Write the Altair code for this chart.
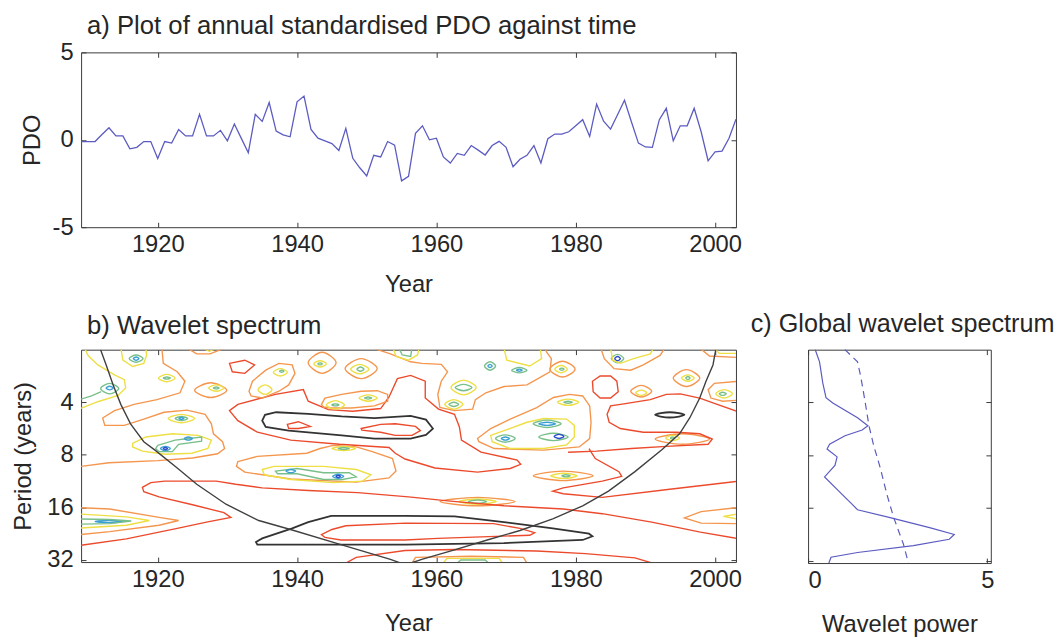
import altair as alt
import pandas as pd

FONT = "Liberation Sans"
TXT = "#262626"
FRAME = "#3a3a3a"
LINE_BLUE = "#5b5bc2"

# ---------------- panel a : annual standardised PDO ----------------
years = list(range(1909, 2004))
pdo = [-0.10, -0.10, -0.10, 0.30, 0.69, 0.22, 0.22, -0.52, -0.43, -0.10,
       -0.10, -1.07, -0.10, -0.19, 0.59, 0.22, 0.22, 1.46, 0.22, 0.22,
       0.54, -0.06, 0.90, 0.08, -0.74, 1.46, 1.05, 2.13, 0.50, 0.28,
       0.17, 2.17, 2.50, 0.59, 0.09, -0.06, -0.22, -0.61, 0.65, -1.06,
       -1.60, -2.07, -0.89, -0.98, -0.10, -0.31, -2.35, -2.09, 0.37, 0.80,
       0.00, 0.09, -0.98, -1.33, -0.78, -0.89, -0.33, -0.59, -0.87, -0.33,
       -0.09, -0.43, -1.54, -1.11, -0.89, -0.33, -1.33, 0.06, 0.33, 0.33,
       0.46, 0.80, 1.15, 0.19, 2.04, 1.06, 0.61, 1.43, 2.26, 1.02,
       -0.19, -0.41, -0.43, 1.15, 1.80, -0.06, 0.80, 0.80, 1.80, 0.46,
       -1.20, -0.69, -0.65, 0.09, 1.17]

# ---------------- panel c : global wavelet spectrum (octave = log2 period) ----
gws_power = [0.20, 0.32, 0.41, 0.50, 0.69, 1.38, 1.67, 1.51, 1.03, 0.60, 0.53, 0.81,
             0.75, 0.46, 0.83, 1.19, 1.38, 2.29, 3.39, 4.08, 3.94, 2.94, 1.38, 0.64, 0.58]
gws_octave = [1.00, 1.23, 1.63, 1.91, 2.01, 2.29, 2.44, 2.52, 2.63, 2.79, 2.88, 3.03,
              3.19, 3.41, 3.66, 3.90, 4.03, 4.18, 4.37, 4.50, 4.59, 4.71, 4.84, 4.93, 5.04]
sig_power = [1.03, 1.38, 1.47, 1.58, 1.70, 1.83, 2.02, 2.20, 2.39, 2.66, 2.80]
sig_octave = [1.00, 1.23, 1.51, 1.94, 2.44, 2.81, 3.25, 3.74, 4.18, 4.68, 5.04]

# ---------------- panel b : cone of influence ----------------
coi_left = [(1911.8, 1.00), (1912.6, 1.29), (1913.6, 1.67), (1914.7, 2.04), (1916.1, 2.41),
            (1918.0, 2.75), (1919.7, 2.92), (1922.8, 3.25), (1925.6, 3.56), (1929.8, 3.94),
            (1934.5, 4.25), (1939.3, 4.43), (1946.3, 4.71), (1953.4, 4.99), (1954.9, 5.06)]
coi_right = [(2000.1, 1.00), (1999.7, 1.29), (1998.7, 1.60), (1997.8, 1.92), (1996.4, 2.29),
             (1994.9, 2.60), (1992.4, 2.90), (1988.5, 3.32), (1984.7, 3.69), (1981.0, 3.97),
             (1976.7, 4.22), (1972.0, 4.44), (1967.3, 4.62), (1962.6, 4.81), (1957.9, 4.99),
             (1956.3, 5.06)]

# ---------------- panel b : traced contours (year, octave) ----------------
black_sig_a = [(1935.0, 2.35), (1935.4, 2.24), (1937.0, 2.19), (1941.6, 2.22), (1946.4, 2.27),
               (1951.1, 2.30), (1956.3, 2.26), (1958.5, 2.33), (1959.5, 2.50), (1958.5, 2.62),
               (1956.3, 2.69), (1951.1, 2.69), (1946.4, 2.63), (1938.8, 2.54), (1935.5, 2.47)]
black_sig_b = [(1934.1, 4.66), (1935.0, 4.59), (1939.3, 4.40), (1941.6, 4.28), (1944.9, 4.16),
               (1955.5, 4.16), (1962.6, 4.17), (1969.7, 4.28), (1976.7, 4.40), (1981.9, 4.50),
               (1982.4, 4.55), (1981.0, 4.62), (1969.7, 4.68), (1955.5, 4.71), (1940.0, 4.71),
               (1934.3, 4.71)]
red_core_a = [(1938.6, 2.42), (1940.2, 2.37), (1941.9, 2.46), (1940.2, 2.50), (1938.8, 2.50)]
red_core_b = [(1949.2, 2.50), (1952.0, 2.42), (1954.1, 2.41), (1957.0, 2.46), (1957.7, 2.54),
              (1956.5, 2.63), (1954.1, 2.63), (1952.0, 2.57), (1949.3, 2.53)]
red_core_c = [(1943.5, 4.52), (1945.0, 4.42), (1947.0, 4.35), (1955.5, 4.30), (1968.2, 4.31),
              (1972.0, 4.40), (1974.1, 4.48), (1973.4, 4.53), (1960.2, 4.59), (1955.5, 4.62),
              (1946.3, 4.62), (1944.0, 4.57)]
red_big = [(1930.3, 2.16), (1931.5, 2.04), (1936.9, 1.85), (1940.9, 1.76), (1941.6, 1.98),
           (1944.5, 2.14), (1948.0, 2.17), (1952.0, 2.12), (1953.2, 1.90), (1954.4, 1.55),
           (1956.3, 1.49), (1958.4, 1.60), (1958.4, 1.92), (1960.3, 2.13), (1962.6, 2.23),
           (1963.3, 2.47), (1963.6, 2.72), (1966.4, 2.95), (1971.6, 3.10), (1972.1, 3.18),
           (1970.6, 3.26), (1965.9, 3.33), (1959.8, 3.25), (1955.5, 3.08), (1954.1, 2.97),
           (1953.2, 2.86), (1946.1, 2.80), (1939.1, 2.72), (1934.3, 2.57), (1931.5, 2.35)]
red_ring_84 = [(1982.4, 1.60), (1983.5, 1.50), (1985.0, 1.50), (1985.9, 1.60), (1986.1, 1.80),
               (1985.0, 1.92), (1983.5, 1.92), (1982.5, 1.80)]
red_ring_32 = [(1930.3, 1.26), (1932.5, 1.20), (1933.9, 1.29), (1932.5, 1.45), (1930.7, 1.42)]
orange_blob_36 = [(1933.1, 1.79), (1933.6, 1.60), (1935.5, 1.39), (1937.4, 1.26), (1939.3, 1.29),
                  (1939.7, 1.45), (1938.8, 1.67), (1937.4, 1.79), (1935.0, 1.92), (1933.4, 1.88)]
orange_blob_48 = [(1943.5, 2.04), (1944.0, 1.92), (1946.4, 1.85), (1949.2, 1.79), (1951.5, 1.78),
                  (1953.0, 1.85), (1953.0, 1.98), (1951.1, 2.07), (1947.8, 2.11), (1944.9, 2.11),
                  (1943.8, 2.09)]
orange_ring_44 = [(1931.5, 3.13), (1934.3, 3.03), (1941.4, 2.97), (1943.3, 2.88), (1945.2, 2.82),
                  (1948.5, 2.85), (1950.8, 2.94), (1953.7, 3.07), (1954.2, 3.31), (1953.2, 3.44),
                  (1948.5, 3.52), (1939.1, 3.46), (1932.5, 3.33), (1931.3, 3.22)]
yellow_ring_44 = [(1935.0, 3.28), (1936.7, 3.22), (1943.8, 3.22), (1948.5, 3.28), (1950.6, 3.38),
                  (1949.4, 3.50), (1945.2, 3.53), (1939.1, 3.47), (1935.3, 3.38)]
green_ring_44 = [(1936.9, 3.31), (1940.0, 3.26), (1943.8, 3.34), (1947.5, 3.34), (1948.5, 3.42),
                 (1946.5, 3.47), (1943.8, 3.47), (1940.0, 3.36), (1937.2, 3.36)]
yellow_ring_22 = [(1916.4, 2.78), (1918.3, 2.66), (1922.1, 2.60), (1925.8, 2.63), (1927.7, 2.72),
                  (1927.2, 2.88), (1924.9, 2.97), (1921.1, 2.99), (1917.8, 2.93), (1916.4, 2.85)]
green_ring_22 = [(1920.0, 2.82), (1922.5, 2.72), (1926.3, 2.66), (1926.3, 2.74), (1923.0, 2.80),
                 (1922.1, 2.94), (1920.2, 2.94), (1919.7, 2.88)]
orange_ring_75 = [(1965.9, 2.69), (1967.8, 2.50), (1970.6, 2.32), (1974.4, 2.10), (1976.8, 1.91),
                  (1979.1, 1.85), (1981.0, 1.88), (1982.0, 2.07), (1982.2, 2.38), (1982.0, 2.69),
                  (1980.5, 2.85), (1975.4, 2.91), (1968.3, 2.88), (1966.1, 2.75)]
yellow_ring_75 = [(1967.8, 2.63), (1969.7, 2.54), (1973.0, 2.38), (1975.4, 2.31), (1978.7, 2.32),
                  (1979.8, 2.44), (1979.8, 2.66), (1978.7, 2.81), (1975.4, 2.88), (1970.6, 2.88),
                  (1968.0, 2.75)]

CLOSED = [("black_sig_a", "black", black_sig_a), ("black_sig_b", "black", black_sig_b),
          ("red_core_a", "red", red_core_a), ("red_core_b", "red", red_core_b),
          ("red_core_c", "red", red_core_c), ("red_big", "red", red_big),
          ("red_ring_84", "red", red_ring_84), ("red_ring_32", "red", red_ring_32),
          ("orange_blob_36", "orange", orange_blob_36), ("orange_blob_48", "orange", orange_blob_48),
          ("orange_ring_44", "orange", orange_ring_44), ("yellow_ring_44", "yellow", yellow_ring_44),
          ("green_ring_44", "green", green_ring_44), ("yellow_ring_22", "yellow", yellow_ring_22),
          ("green_ring_22", "green", green_ring_22), ("orange_ring_75", "orange", orange_ring_75),
          ("yellow_ring_75", "yellow", yellow_ring_75)]

# small rings: (year centre, octave centre, half width [yr], half height [oct], level)
rings = [
    (1913.1, 1.74, 1.3, 0.10, "green"), (1913.1, 1.73, 0.5, 0.035, "cyan"),
    (1916.9, 1.17, 1.0, 0.07, "green"), (1916.9, 1.17, 0.4, 0.03, "cyan"),
    (1921.3, 1.54, 1.2, 0.07, "yellow"), (1921.3, 1.54, 0.5, 0.02, "green"),
    (1927.6, 1.77, 2.3, 0.14, "orange"), (1928.4, 1.73, 1.1, 0.06, "yellow"),
    (1928.4, 1.73, 0.4, 0.02, "green"), (1923.4, 2.31, 1.9, 0.08, "yellow"),
    (1923.4, 2.31, 0.9, 0.04, "green"), (1923.4, 2.31, 0.35, 0.02, "cyan"),
    (1921.1, 2.88, 0.7, 0.04, "cyan"), (1921.1, 2.88, 0.3, 0.02, "blue"),
    (1924.4, 2.69, 0.6, 0.03, "cyan"),
    (1937.6, 1.43, 1.0, 0.07, "yellow"), (1937.8, 1.41, 0.3, 0.02, "green"),
    (1935.4, 1.76, 1.0, 0.09, "yellow"),
    (1943.6, 1.25, 2.0, 0.20, "orange"), (1943.3, 1.27, 0.9, 0.06, "yellow"),
    (1943.3, 1.27, 0.3, 0.02, "green"),
    (1949.2, 1.36, 2.3, 0.19, "orange"), (1949.0, 1.37, 1.3, 0.09, "yellow"),
    (1949.1, 1.37, 0.5, 0.04, "green"),
    (1945.5, 2.05, 1.3, 0.08, "yellow"), (1945.5, 2.05, 0.5, 0.02, "green"),
    (1950.2, 1.92, 1.3, 0.06, "yellow"), (1950.2, 1.92, 0.5, 0.02, "green"),
    (1946.7, 2.88, 1.7, 0.04, "yellow"), (1946.7, 2.88, 0.8, 0.02, "green"),
    (1939.1, 3.31, 0.7, 0.03, "cyan"), (1945.9, 3.41, 0.8, 0.04, "cyan"),
    (1945.9, 3.41, 0.3, 0.02, "blue"),
    (1967.7, 1.31, 0.8, 0.08, "green"), (1967.7, 1.31, 0.3, 0.03, "cyan"),
    (1971.9, 1.39, 1.1, 0.05, "green"), (1971.9, 1.39, 0.4, 0.02, "cyan"),
    (1963.9, 1.72, 1.8, 0.14, "yellow"), (1963.9, 1.72, 1.2, 0.06, "green"),
    (1962.5, 2.04, 1.3, 0.09, "yellow"), (1962.5, 2.04, 0.7, 0.04, "green"),
    (1978.1, 1.37, 1.8, 0.15, "orange"), (1977.9, 1.37, 0.9, 0.07, "yellow"),
    (1978.0, 1.37, 0.3, 0.02, "green"),
    (1975.9, 2.41, 2.0, 0.07, "green"), (1975.9, 2.41, 1.2, 0.03, "cyan"),
    (1969.9, 2.69, 1.4, 0.07, "green"), (1969.9, 2.69, 0.6, 0.03, "cyan"),
    (1976.8, 2.66, 2.1, 0.07, "green"), (1977.6, 2.65, 0.7, 0.04, "blue"),
    (1978.9, 2.00, 1.5, 0.06, "yellow"), (1978.9, 2.00, 0.6, 0.02, "green"),
    (1986.0, 1.17, 0.9, 0.08, "green"), (1986.0, 1.17, 0.4, 0.04, "blue"),
    (1989.4, 1.79, 1.5, 0.11, "orange"), (1989.4, 1.82, 0.8, 0.05, "yellow"),
    (1995.9, 1.54, 1.9, 0.16, "orange"), (1996.1, 1.54, 0.9, 0.06, "yellow"),
    (1996.1, 1.54, 0.3, 0.03, "green"),
    (2001.3, 1.84, 1.2, 0.08, "yellow"), (2001.1, 1.84, 0.5, 0.03, "green"),
    (1993.5, 2.24, 2.1, 0.05, "black"),
    (1995.3, 2.70, 3.9, 0.10, "orange"), (1993.9, 2.68, 1.0, 0.05, "yellow"),
    (1993.9, 2.68, 0.3, 0.02, "green"),
    (1978.2, 3.40, 4.3, 0.09, "orange"), (1978.3, 3.40, 1.9, 0.05, "yellow"),
    (1978.6, 3.40, 0.6, 0.02, "green"),
    (1965.9, 3.89, 5.4, 0.08, "orange"), (1965.9, 3.89, 2.7, 0.05, "yellow"),
    (1965.9, 3.89, 1.3, 0.03, "green"),
    (1913.0, 4.27, 2.0, 0.02, "cyan"),
]

# open contours (leave through the frame)
orange_left = [(1920.6, 0.98), (1920.8, 1.26), (1922.8, 1.42), (1923.9, 1.60), (1923.2, 1.82),
               (1919.9, 1.95), (1916.6, 2.04), (1913.8, 2.16), (1912.1, 2.30), (1912.4, 2.44),
               (1915.2, 2.44), (1918.0, 2.32), (1920.9, 2.19), (1924.2, 2.15), (1926.8, 2.23),
               (1927.7, 2.41), (1928.0, 2.60), (1929.3, 2.75), (1929.6, 2.88), (1928.6, 2.98),
               (1925.0, 3.06), (1920.0, 3.11), (1913.0, 3.15), (1909.0, 3.22), (1908.0, 3.23)]
orange_mid = [(1951.1, 0.98), (1953.4, 1.08), (1956.3, 1.23), (1957.9, 1.26), (1960.7, 1.28),
              (1961.6, 1.42), (1960.7, 1.60), (1960.2, 1.85), (1960.5, 2.10), (1962.6, 2.16),
              (1965.2, 2.13), (1965.6, 1.95), (1967.1, 1.82), (1969.7, 1.70), (1973.0, 1.67),
              (1976.3, 1.42), (1976.5, 1.17), (1975.8, 1.04), (1975.6, 0.98)]
yellow_left = [(1908.5, 2.14), (1911.4, 1.99), (1914.3, 1.87), (1915.4, 1.73), (1915.2, 1.57),
               (1913.8, 1.48), (1911.4, 1.29), (1910.0, 1.11), (1909.5, 0.97)]
green_left = [(1908.5, 1.96), (1910.5, 1.88), (1911.9, 1.80)]
yellow_top_16 = [(1914.7, 0.97), (1915.0, 1.20), (1916.4, 1.32), (1918.0, 1.26), (1918.4, 1.11),
                 (1918.3, 0.97)]
orange_top_27 = [(1924.2, 0.97), (1925.6, 1.08), (1927.5, 1.08), (1929.6, 0.97)]
yellow_top_27 = [(1926.4, 0.97), (1927.4, 1.03), (1928.5, 0.97)]
yellow_top_55 = [(1953.8, 0.97), (1954.2, 1.13), (1956.0, 1.20), (1957.3, 1.10), (1957.5, 0.97)]
green_top_55 = [(1954.6, 0.97), (1955.1, 1.10), (1956.3, 1.13), (1956.5, 0.97)]
yellow_top_72 = [(1969.7, 0.97), (1970.1, 1.20), (1973.4, 1.31), (1975.1, 1.17), (1974.9, 0.97)]
orange_top_88 = [(1983.6, 0.97), (1984.1, 1.17), (1985.5, 1.36), (1987.9, 1.39), (1989.7, 1.29),
                 (1992.1, 1.11), (1992.8, 0.97)]
yellow_top_88 = [(1985.0, 0.97), (1985.3, 1.20), (1986.4, 1.26), (1988.3, 1.17), (1990.7, 1.08),
                 (1991.2, 0.97)]
orange_top_01 = [(1997.8, 0.97), (1999.2, 1.12), (2003.5, 1.15)]
yellow_top_01 = [(1999.9, 0.97), (2000.6, 1.07), (2003.5, 1.07)]
orange_right_18 = [(2003.5, 1.60), (1999.9, 1.64), (1999.0, 1.76), (1999.4, 1.92), (2001.1, 1.98),
                   (2003.5, 1.96)]
red_right = [(2003.5, 2.19), (1999.7, 2.01), (1997.8, 1.92), (1995.0, 1.84), (1993.0, 1.85),
             (1990.7, 1.95), (1986.9, 2.03), (1985.0, 2.07), (1984.5, 2.23), (1984.8, 2.38),
             (1986.4, 2.50), (1989.7, 2.57), (1994.5, 2.57), (1997.8, 2.60), (1999.6, 2.70),
             (1999.0, 2.80), (1993.0, 2.84), (1988.0, 2.88), (1983.0, 2.93), (1978.9, 2.95)]
red_tongue = [(1981.9, 2.88), (1982.8, 3.07), (1986.2, 3.32), (1986.6, 3.41), (1983.8, 3.50),
              (1978.2, 3.63), (1976.7, 3.69), (1978.2, 3.74), (1983.8, 3.81), (1993.2, 3.66),
              (2003.5, 3.50)]
red_band = [(1908.0, 4.74), (1909.0, 4.72), (1915.5, 4.60), (1922.8, 4.40), (1927.0, 4.28),
            (1930.5, 4.19), (1929.5, 4.10), (1925.0, 3.95), (1920.2, 3.80), (1918.0, 3.70),
            (1917.8, 3.62), (1919.0, 3.53), (1921.0, 3.50), (1928.4, 3.50), (1931.2, 3.56),
            (1935.0, 3.63), (1941.6, 3.68), (1948.7, 3.72), (1956.0, 3.80), (1962.0, 3.88),
            (1969.7, 3.97), (1978.2, 4.03), (1983.8, 4.12), (1990.9, 4.28), (1997.9, 4.47),
            (2003.5, 4.60)]
red_bottom = [(1947.0, 5.06), (1948.5, 4.95), (1955.5, 4.82), (1962.6, 4.80), (1974.4, 4.83),
              (1981.4, 4.88), (1988.5, 4.96), (1991.0, 5.06)]
orange_right_20 = [(2003.5, 4.00), (1998.0, 4.08), (1995.6, 4.20), (1998.0, 4.30), (2003.5, 4.31)]
yellow_right_20 = [(2003.5, 4.12), (2001.2, 4.17), (2003.5, 4.23)]
orange_bottom_60 = [(1956.5, 5.06), (1957.0, 4.95), (1965.0, 4.93), (1972.5, 4.95), (1973.0, 5.06)]
yellow_bottom_60 = [(1961.0, 5.06), (1961.5, 4.97), (1969.0, 4.97), (1969.5, 5.06)]
green_bottom_60 = [(1963.0, 5.06), (1963.5, 5.00), (1967.0, 5.00), (1967.5, 5.06)]
orange_left_20 = [(1908.0, 4.00), (1913.1, 4.03), (1920.2, 4.19), (1923.0, 4.25), (1920.2, 4.34),
                  (1913.1, 4.46), (1908.0, 4.53)]
yellow_left_20 = [(1908.0, 4.12), (1915.5, 4.18), (1918.8, 4.25), (1915.5, 4.34), (1908.0, 4.40)]
green_left_20 = [(1908.0, 4.22), (1913.1, 4.23), (1916.2, 4.26), (1913.1, 4.31), (1908.0, 4.32)]

OPEN = [("orange_left", "orange", orange_left), ("orange_mid", "orange", orange_mid),
        ("yellow_left", "yellow", yellow_left), ("green_left", "green", green_left),
        ("yellow_top_16", "yellow", yellow_top_16), ("orange_top_27", "orange", orange_top_27),
        ("yellow_top_27", "yellow", yellow_top_27), ("yellow_top_55", "yellow", yellow_top_55),
        ("green_top_55", "green", green_top_55), ("yellow_top_72", "yellow", yellow_top_72),
        ("orange_top_88", "orange", orange_top_88), ("yellow_top_88", "yellow", yellow_top_88),
        ("orange_top_01", "orange", orange_top_01), ("yellow_top_01", "yellow", yellow_top_01),
        ("orange_right_18", "orange", orange_right_18), ("red_right", "red", red_right),
        ("red_tongue", "red", red_tongue), ("red_band", "red", red_band),
        ("red_bottom", "red", red_bottom), ("orange_right_20", "orange", orange_right_20),
        ("yellow_right_20", "yellow", yellow_right_20), ("orange_bottom_60", "orange", orange_bottom_60),
        ("yellow_bottom_60", "yellow", yellow_bottom_60), ("green_bottom_60", "green", green_bottom_60),
        ("orange_left_20", "orange", orange_left_20), ("yellow_left_20", "yellow", yellow_left_20),
        ("green_left_20", "green", green_left_20)]

LEVEL_NAMES = ["blue", "cyan", "green", "yellow", "orange", "red", "black"]
LEVEL_COLORS = ["#2a4bcc", "#3b9fd4", "#78bf8a", "#eedf45", "#f5964e", "#ec4a2c", "#333333"]

# ---------------- build tables ----------------
def rows_from(groups):
    out = []
    for name, level, pts in groups:
        for i, (yr, oc) in enumerate(pts):
            out.append({"id": name, "level": level, "seq": i, "year": yr, "octave": oc})
    return out

closed_rows = rows_from(CLOSED)
ring_groups = []
for k, (cx, cy, rx, ry, lev) in enumerate(rings):
    ring_groups.append((f"ring{k}", lev, [(cx - rx, cy), (cx, cy - ry), (cx + rx, cy), (cx, cy + ry)]))
ring_rows = rows_from(ring_groups)
open_rows = rows_from(OPEN)
coi_rows = rows_from([("coi_left", "black", coi_left), ("coi_right", "black", coi_right)])

df_pdo = pd.DataFrame({"year": years, "pdo": pdo})
df_closed = pd.DataFrame(closed_rows)
df_rings = pd.DataFrame(ring_rows)
df_open = pd.DataFrame(open_rows)
df_coi = pd.DataFrame(coi_rows)
df_gws = pd.DataFrame({"power": gws_power, "octave": gws_octave, "seq": list(range(len(gws_power)))})
df_sig = pd.DataFrame({"power": sig_power, "octave": sig_octave, "seq": list(range(len(sig_power)))})

YEAR_TICKS = [1920, 1940, 1960, 1980, 2000]
TK = 5  # inward tick length


def ax_main(title, values, pad_label, pad_title, label_expr=None, fmt=None):
    kw = dict(values=values, title=title, offset=-TK, tickSize=TK, domain=False,
              labelPadding=pad_label, titlePadding=pad_title, ticks=True, grid=False)
    if label_expr:
        kw["labelExpr"] = label_expr
    if fmt:
        kw["format"] = fmt
    return alt.Axis(**kw)


def ax_mirror(values):
    return alt.Axis(values=values, labels=False, title=None, offset=-TK, tickSize=TK,
                    domain=False, grid=False)


def panel_title(text, size, dx, offset):
    return alt.TitleParams(text, anchor="start", frame="group", font=FONT, fontSize=size,
                           fontWeight="normal", color=TXT, offset=offset, dx=dx)


x_year = alt.Scale(domain=[1909, 2003], nice=False, zero=False)
y_oct = alt.Scale(domain=[1, 5.04], nice=False, zero=False, reverse=True)
color_enc = alt.Color("level:N", scale=alt.Scale(domain=LEVEL_NAMES, range=LEVEL_COLORS), legend=None)

# ---------------- panel a ----------------
xa = alt.X("year:Q", scale=x_year, axis=ax_main("Year", YEAR_TICKS, 6, 16, fmt="d"))
ya = alt.Y("pdo:Q", scale=alt.Scale(domain=[-5, 5], nice=False),
           axis=ax_main("PDO", [-5, 0, 5], 8, 8, "toString(datum.value)"))
line_a = alt.Chart(df_pdo).mark_line(color=LINE_BLUE, strokeWidth=1.3).encode(x=xa, y=ya)
mir_a = alt.Chart(df_pdo).mark_line(opacity=0).encode(
    x=alt.X("year:Q", scale=x_year, axis=ax_mirror(YEAR_TICKS)),
    y=alt.Y("pdo:Q", scale=alt.Scale(domain=[-5, 5], nice=False), axis=ax_mirror([-5, 0, 5])))
panel_a = alt.layer(line_a, mir_a).resolve_axis(x="independent", y="independent").properties(
    width=663, height=177,
    title=panel_title("a) Plot of annual standardised PDO against time", 26, 6, 2))

# ---------------- panel b ----------------
xb = alt.X("year:Q", scale=x_year, axis=ax_main("Year", YEAR_TICKS, 6, 20, fmt="d"))
yb = alt.Y("octave:Q", scale=y_oct, axis=ax_main("Period (years)", [2, 3, 4, 5], 8, 12,
                                                 "pow(2, datum.value)"))
sw = alt.condition(alt.datum.level == "black", alt.value(1.8), alt.value(1.4))
closed_layer = alt.Chart(df_closed).mark_line(interpolate="linear-closed", clip=True).encode(
    x=xb, y=yb, color=color_enc, detail="id:N", order="seq:Q", strokeWidth=sw)
ring_layer = alt.Chart(df_rings).mark_line(interpolate="cardinal-closed", clip=True).encode(
    x=xb, y=yb, color=color_enc, detail="id:N", order="seq:Q", strokeWidth=sw)
open_layer = alt.Chart(df_open).mark_line(interpolate="linear", clip=True).encode(
    x=xb, y=yb, color=color_enc, detail="id:N", order="seq:Q", strokeWidth=sw)
coi_layer = alt.Chart(df_coi).mark_line(color="#404040", strokeWidth=1.4, clip=True).encode(
    x=xb, y=yb, detail="id:N", order="seq:Q")
mir_b = alt.Chart(df_coi).mark_line(opacity=0).encode(
    x=alt.X("year:Q", scale=x_year, axis=ax_mirror(YEAR_TICKS)),
    y=alt.Y("octave:Q", scale=y_oct, axis=ax_mirror([2, 3, 4, 5])))
panel_b = alt.layer(alt.layer(closed_layer, ring_layer, open_layer, coi_layer), mir_b).resolve_axis(
    x="independent", y="independent").properties(
    width=663, height=215, title=panel_title("b) Wavelet spectrum", 26, 6, 10))

# ---------------- panel c ----------------
x_pow = alt.Scale(domain=[0, 5.1], nice=False, zero=False)
xc = alt.X("power:Q", scale=x_pow, axis=ax_main("Wavelet power", [0, 5], 6, 20))
yc = alt.Y("octave:Q", scale=y_oct, axis=alt.Axis(values=[2, 3, 4, 5], labels=False, title=None,
                                                 offset=-TK, tickSize=TK, domain=False, grid=False))
gws_line = alt.Chart(df_gws).mark_line(color=LINE_BLUE, strokeWidth=1.2).encode(x=xc, y=yc, order="seq:Q")
sig_line = alt.Chart(df_sig).mark_line(color=LINE_BLUE, strokeWidth=1.2, strokeDash=[7, 5]).encode(
    x=xc, y=yc, order="seq:Q")
mir_c = alt.Chart(df_gws).mark_line(opacity=0).encode(
    x=alt.X("power:Q", scale=x_pow, axis=ax_mirror([0, 5])),
    y=alt.Y("octave:Q", scale=y_oct, axis=ax_mirror([2, 3, 4, 5])))
panel_c = alt.layer(alt.layer(gws_line, sig_line), mir_c).resolve_axis(
    x="independent", y="independent").properties(
    width=185, height=216, title=panel_title("c) Global wavelet spectrum", 25.5, -58, 10))

bottom = alt.hconcat(panel_b, panel_c, spacing=7)
chart = alt.vconcat(panel_a, bottom, spacing=14).properties(
    padding={"left": 2, "top": 0, "right": 0, "bottom": 0}, background="white"
).configure_view(stroke=FRAME, strokeWidth=1).configure_axis(
    labelFont=FONT, titleFont=FONT, labelFontSize=24, titleFontSize=24, labelColor=TXT,
    titleColor=TXT, titleFontWeight="normal", tickColor=FRAME, tickWidth=1, grid=False
)

chart.save("out.html", embed_options={"renderer": "svg", "actions": False})
